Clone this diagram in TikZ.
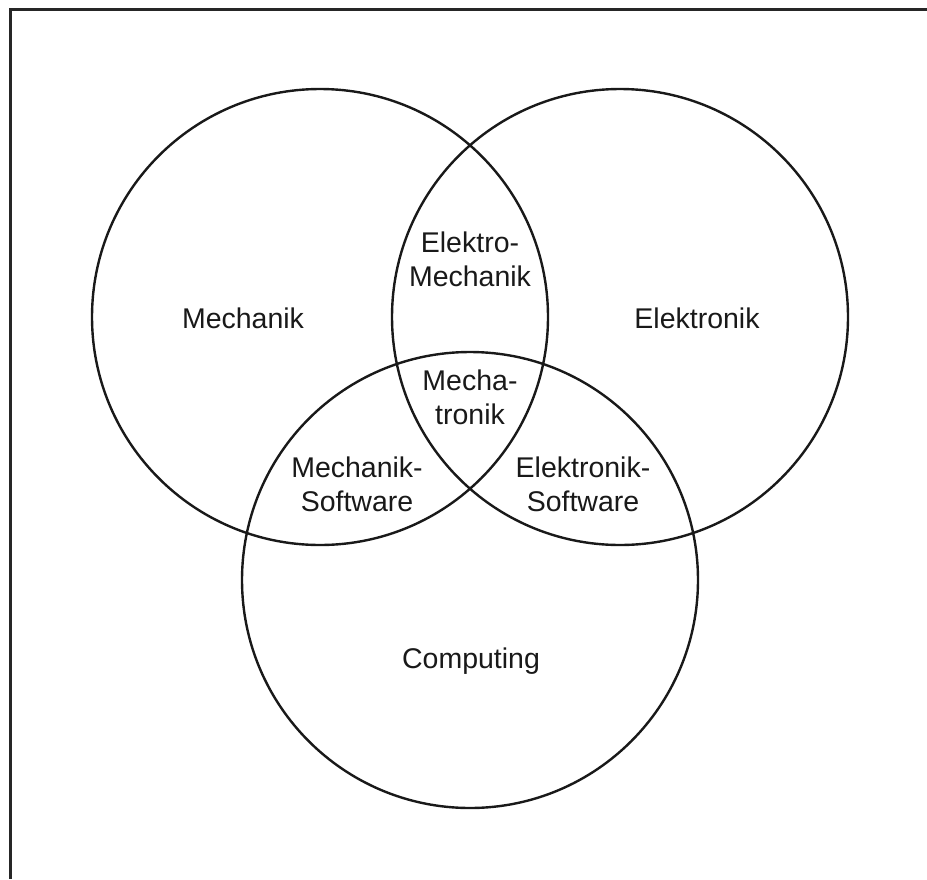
\documentclass[tikz,border=0pt]{standalone}
\usepackage{fontspec}
\setmainfont{Liberation Sans}
\begin{document}
\begin{tikzpicture}[x=1pt,y=-1pt,
  ring/.style={draw=black!90, line width=2.4pt},
  lbl/.style={align=center, font=\fontsize{28.5}{34}\selectfont, text=black!90, inner sep=0pt}]
\useasboundingbox (0,0) rectangle (927,879);
\coordinate (tl) at (10,9);
\coordinate (tr) at (927,9);
\coordinate (bl) at (10,879);
\draw[line width=3pt, black!85] (tr) -- (tl) -- (bl);
\node[ring, circle, minimum size=456pt, inner sep=0pt] (mech) at (320,317) {};
\node[ring, circle, minimum size=456pt, inner sep=0pt] (elek) at (620,317) {};
\node[ring, circle, minimum size=456pt, inner sep=0pt] (comp) at (470,580) {};
\node[lbl] (lmech) at (243,318) {Mechanik};
\node[lbl] (lelek) at (697,318) {Elektronik};
\node[lbl] (lem) at (470,259) {Elektro-\\Mechanik};
\node[lbl] (lmt) at (470,397) {Mecha-\\tronik};
\node[lbl] (lms) at (357,484) {Mechanik-\\Software};
\node[lbl] (les) at (583,484) {Elektronik-\\Software};
\node[lbl] (lcomp) at (471,661) {Computing};
\end{tikzpicture}
\end{document}
